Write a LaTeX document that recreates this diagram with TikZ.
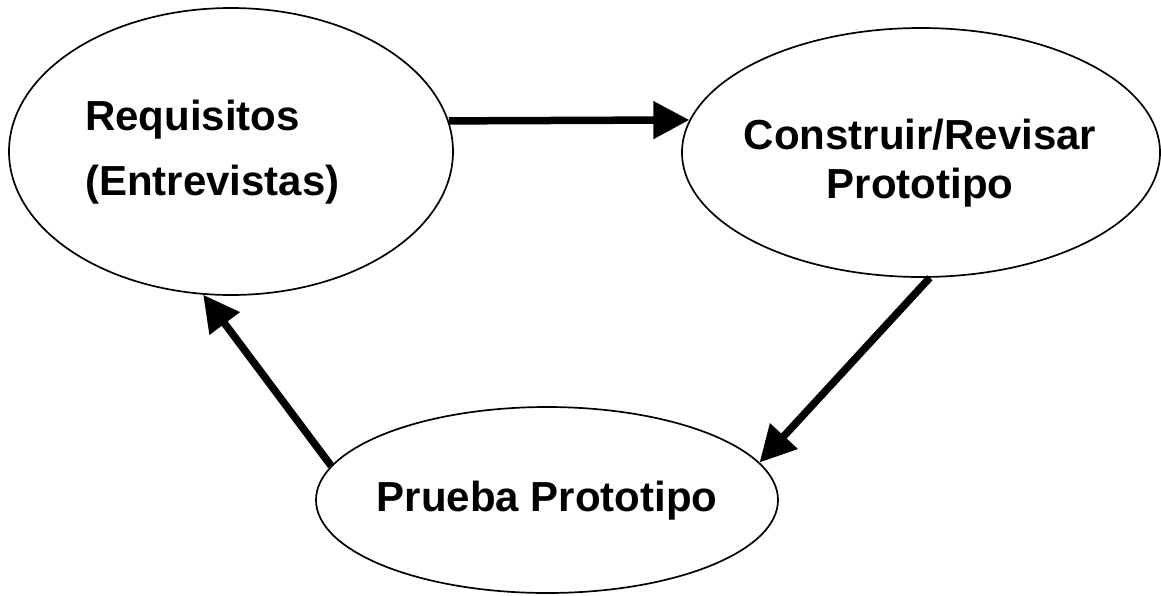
\documentclass[tikz,border=0pt]{standalone}
\usepackage{fontspec}
\setmainfont{Liberation Sans}
\usetikzlibrary{shapes.geometric,arrows.meta}
\begin{document}
\begin{tikzpicture}[
  x=1pt, y=-1pt,
  stage/.style={ellipse, draw, line width=1.7pt, inner sep=0pt},
  flow/.style={line width=7.5pt, -{Triangle[length=36pt,width=36pt]}},
  lbl/.style={font=\fontsize{42}{50}\selectfont\bfseries, inner sep=0pt}
]
\useasboundingbox (0,0) rectangle (1161,595);

% the three stages of the prototyping cycle
\node[stage, minimum width=444pt, minimum height=287pt] (req)  at (231,151.5) {};
\node[stage, minimum width=478pt, minimum height=249pt] (cons) at (921,152.5) {};
\node[stage, minimum width=462pt, minimum height=186pt] (test) at (547,500) {};

% stage captions
\node[lbl, anchor=base west] (reqA)  at (85,130)  {Requisitos};
\node[lbl, anchor=base west] (reqB)  at (85,195)  {(Entrevistas)};
\node[lbl, anchor=base]      (consA) at (920,149) {Construir/Revisar};
\node[lbl, anchor=base]      (consB) at (920,198) {Prototipo};
\node[lbl, anchor=base]      (testA) at (547,511) {Prueba Prototipo};

% cycle arrows
\draw[flow] (req.8)    -- (cons.172);
\draw[flow] (cons.274) -- (test.10);
\draw[flow] (test.171) -- (req.259);
\end{tikzpicture}
\end{document}
